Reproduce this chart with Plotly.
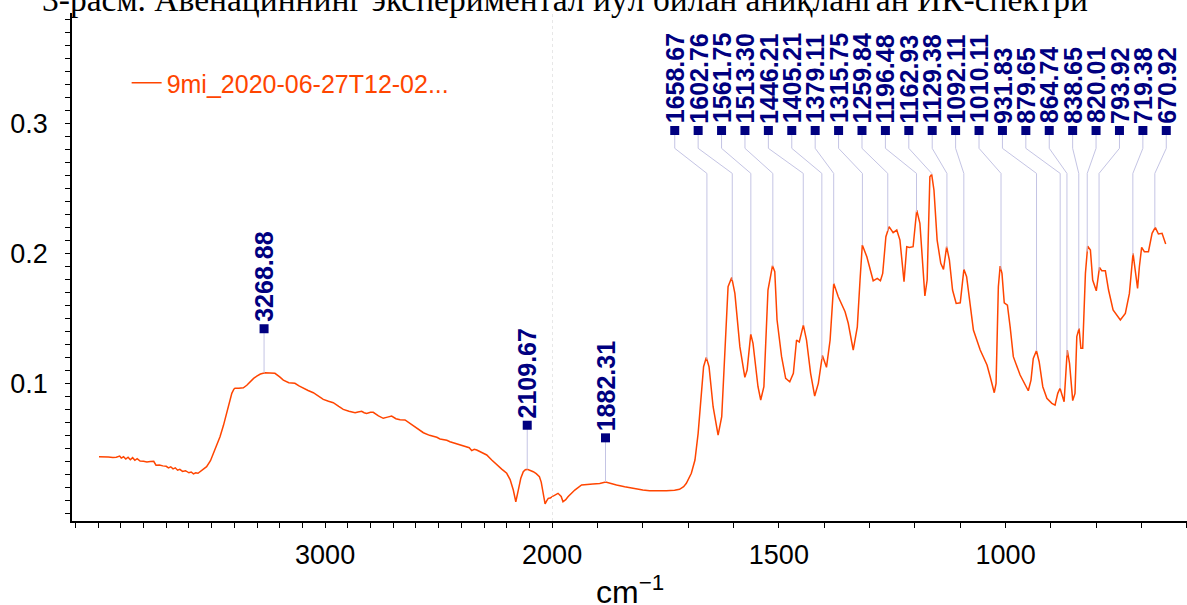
import numpy as np
import plotly.graph_objects as go

# ---------------- data ----------------
# wavenumber (cm-1) and absorbance, region above 2000 cm-1 (compressed scale)
wn_high = [3996, 3975, 3955, 3935, 3920, 3905, 3898, 3888, 3878, 3868, 3858, 3848, 3838, 3828,
           3815, 3800, 3785, 3770, 3755, 3745, 3730, 3715, 3700, 3690, 3680, 3670, 3660, 3650,
           3640, 3628, 3615, 3600, 3590, 3580, 3570, 3560, 3551, 3540, 3522, 3505, 3492, 3478,
           3463, 3448, 3433, 3420, 3411, 3402, 3397, 3380, 3360, 3345, 3331, 3315, 3301, 3285,
           3265, 3245, 3221, 3200, 3184, 3160, 3133, 3115, 3096, 3075, 3052, 3030, 3008, 2985,
           2964, 2940, 2920, 2895, 2868, 2855, 2839, 2828, 2817, 2800, 2788, 2765, 2744, 2725,
           2707, 2688, 2670, 2648, 2626, 2611, 2590, 2567, 2540, 2508, 2494, 2464, 2450, 2420,
           2406, 2376, 2365, 2354, 2343, 2332, 2310, 2288, 2266, 2244, 2222, 2200, 2185, 2171,
           2160, 2149, 2138, 2127, 2118, 2109, 2096, 2083, 2070, 2056, 2048, 2041, 2035, 2031,
           2024, 2017, 2008, 2000]
ab_high = [0.0435, 0.0436, 0.0433, 0.0430, 0.0432, 0.0440, 0.0425, 0.0435, 0.0418, 0.0432, 0.0412,
           0.0428, 0.0408, 0.0420, 0.0402, 0.0400, 0.0395, 0.0398, 0.0400, 0.0370, 0.0372, 0.0365,
           0.0362, 0.0350, 0.0358, 0.0342, 0.0350, 0.0332, 0.0338, 0.0322, 0.0328, 0.0312, 0.0318,
           0.0303, 0.0312, 0.0308, 0.0320, 0.0332, 0.0359, 0.0405, 0.0462, 0.0525, 0.0589, 0.0675,
           0.0769, 0.0860, 0.0923, 0.0955, 0.0962, 0.0963, 0.0966, 0.0985, 0.1012, 0.1038, 0.1056,
           0.1072, 0.1082, 0.1082, 0.1077, 0.1050, 0.1025, 0.1005, 0.1000, 0.0980, 0.0962, 0.0945,
           0.0928, 0.0900, 0.0877, 0.0862, 0.0851, 0.0822, 0.0800, 0.0785, 0.0774, 0.0780, 0.0785,
           0.0774, 0.0769, 0.0777, 0.0777, 0.0750, 0.0731, 0.0740, 0.0748, 0.0728, 0.0720, 0.0718,
           0.0690, 0.0672, 0.0650, 0.0620, 0.0600, 0.0585, 0.0572, 0.0562, 0.0551, 0.0535, 0.0525,
           0.0513, 0.0505, 0.0482, 0.0492, 0.0487, 0.0470, 0.0449, 0.0410, 0.0372, 0.0340, 0.0308,
           0.0260, 0.0179, 0.0089, 0.0179, 0.0270, 0.0320, 0.0335, 0.0338, 0.0330, 0.0320, 0.0305,
           0.0282, 0.0240, 0.0179, 0.0110, 0.0072, 0.0095, 0.0115, 0.0118, 0.0128]

# region below 2000 cm-1 (expanded scale)
wn_low = [2000, 1987, 1980, 1976, 1970, 1965, 1950, 1935, 1910, 1895, 1882, 1870, 1858, 1840,
          1822, 1800, 1785, 1765, 1748, 1730, 1719, 1710, 1704, 1693, 1685, 1678, 1671, 1666,
          1660, 1654, 1645, 1638, 1634, 1626, 1619, 1612, 1604, 1597, 1586, 1575, 1570, 1562,
          1557, 1546, 1540, 1533, 1524, 1514, 1509, 1504, 1494, 1485, 1476, 1468, 1461, 1455,
          1446, 1439, 1430, 1421, 1413, 1404, 1395, 1387, 1379, 1369, 1354, 1347, 1336, 1327,
          1321, 1316, 1306, 1292, 1283, 1276, 1271, 1264, 1257, 1248, 1240, 1233, 1224, 1218,
          1212, 1204, 1196, 1189, 1178, 1173, 1167, 1163, 1158, 1151, 1143, 1137, 1130, 1124,
          1117, 1109, 1100, 1092, 1086, 1078, 1071, 1056, 1041, 1034, 1025, 1021, 1016, 1012,
          1008, 1003, 996, 990, 983, 968, 950, 944, 939, 932, 926, 918, 909, 898, 891, 885, 880,
          871, 864, 859, 854, 852, 847, 843, 838, 834, 830, 824, 819, 813, 808, 800, 793, 788,
          780, 773, 763, 747, 736, 727, 719, 714, 709, 705, 700, 694, 685, 677, 670, 663, 655, 647]
ab_low = [0.0128, 0.0154, 0.0130, 0.0089, 0.0105, 0.0128, 0.0179, 0.0218, 0.0225, 0.0230, 0.0241,
          0.0228, 0.0218, 0.0205, 0.0192, 0.0180, 0.0174, 0.0173, 0.0174, 0.0178, 0.0185, 0.0205,
          0.0231, 0.0308, 0.0410, 0.0615, 0.0923, 0.1128, 0.1200, 0.1128, 0.0820, 0.0660, 0.0602,
          0.0743, 0.1205, 0.1743, 0.1815, 0.1692, 0.1282, 0.1046, 0.1102, 0.1379, 0.1308, 0.0974,
          0.0872, 0.0974, 0.1718, 0.1905, 0.1859, 0.1487, 0.1205, 0.1038, 0.1012, 0.1077, 0.1333,
          0.1318, 0.1448, 0.1333, 0.1077, 0.0902, 0.1000, 0.1215, 0.1123, 0.1333, 0.1769, 0.1666,
          0.1551, 0.1462, 0.1256, 0.1435, 0.1795, 0.2064, 0.1974, 0.1789, 0.1808, 0.1789, 0.1846,
          0.2128, 0.2205, 0.2159, 0.2179, 0.2102, 0.1782, 0.2051, 0.2046, 0.2051, 0.2333, 0.2231,
          0.1672, 0.1795, 0.2589, 0.2608, 0.2487, 0.2102, 0.1923, 0.1877, 0.2051, 0.1949, 0.1718,
          0.1615, 0.1620, 0.1877, 0.1820, 0.1589, 0.1410, 0.1256, 0.1141, 0.1051, 0.0928, 0.1000,
          0.1743, 0.1902, 0.1846, 0.1620, 0.1602, 0.1435, 0.1205, 0.1064, 0.0943, 0.1025, 0.1192,
          0.1251, 0.1166, 0.0974, 0.0885, 0.0846, 0.0833, 0.0923, 0.0962, 0.0859, 0.1256, 0.1154,
          0.0897, 0.0867, 0.0923, 0.1359, 0.1423, 0.1269, 0.1269, 0.1846, 0.2056, 0.2025, 0.1795,
          0.1712, 0.1892, 0.1866, 0.1866, 0.1718, 0.1564, 0.1487, 0.1538, 0.1692, 0.2000, 0.1872,
          0.1731, 0.1897, 0.2046, 0.2013, 0.2013, 0.2154, 0.2200, 0.2149, 0.2154, 0.2072]

# peak labels
single_peaks = ["3268.88", "2109.67", "1882.31"]
crowded_peaks = ["1658.67", "1602.76", "1561.75", "1513.30", "1446.21", "1405.21", "1379.11",
                 "1315.75", "1259.84", "1196.48", "1162.93", "1129.38", "1092.11", "1010.11",
                 "931.83", "879.65", "864.74", "838.65", "820.01", "793.92", "719.38", "670.92"]

series_name = "9mi_2020-06-27T12-02..."
x_title = "cm<sup>−1</sup>"
caption = "3-расм. Авенациннинг экспериментал йўл билан аниқланган ИК-спектри"

# ticks
high_labels = [3000]
high_long = [4000, 3000]
high_medium = [3500, 2500]
low_labels = [2000, 1500, 1000]
low_long = [2000, 1500, 1000]
y_labels = [0.1, 0.2, 0.3]
y_long = [0, 0.1, 0.2, 0.3]
y_medium = [0.05, 0.15, 0.25, 0.35]

# ---------------- styling / layout constants ----------------
LINE_COLOR = "#FF4500"
LABEL_COLOR = "#000080"
LEADER_COLOR = "#C4C4E4"
FONT = "Liberation Sans, Arial, sans-serif"
X_HIGH_RANGE = [4115, 2000]
X_LOW_RANGE = [2000, 600]
Y_RANGE = [-0.0059, 0.3849]
SPLIT = 0.4306
LABEL_OFFSET = 0.034       # label square height above single peaks
ROW_Y = 0.2945             # label row for crowded peaks
BEND1 = 0.2808
BEND2 = 0.2615
SPREAD = (1729.6, 645.7)   # horizontal spread of crowded label row (cm-1)

wn_all = np.array(wn_high + wn_low[1:], dtype=float)
ab_all = np.array(ab_high + ab_low[1:], dtype=float)
order = np.argsort(wn_all)


def height(w):
    return float(np.interp(w, wn_all[order], ab_all[order]))


fig = go.Figure()

fig.add_trace(go.Scatter(x=wn_high, y=ab_high, xaxis="x", yaxis="y", mode="lines",
                         line=dict(color=LINE_COLOR, width=1.5), name=series_name,
                         legendgroup="s", showlegend=True, hoverinfo="x+y"))
fig.add_trace(go.Scatter(x=wn_low, y=ab_low, xaxis="x2", yaxis="y", mode="lines",
                         line=dict(color=LINE_COLOR, width=1.5), name=series_name,
                         legendgroup="s", showlegend=False, hoverinfo="x+y"))

annotations = []
lab_font = dict(family=FONT, size=25, color=LABEL_COLOR, weight="bold")

# single (isolated) peaks
lead = {"x": ([], []), "x2": ([], [])}
sq = {"x": ([], []), "x2": ([], [])}
for lab in single_peaks:
    w = float(lab)
    ax = "x" if w > 2000 else "x2"
    h = height(w)
    sy = h + LABEL_OFFSET
    lead[ax][0].extend([w, w, None])
    lead[ax][1].extend([h, sy, None])
    sq[ax][0].append(w)
    sq[ax][1].append(sy)
    annotations.append(dict(x=w, y=sy, xref=ax, yref="y", text=lab, textangle=-90,
                            showarrow=False, xanchor="center", yanchor="bottom", yshift=5,
                            font=lab_font))

# crowded peaks with spread labels
lx = np.linspace(SPREAD[0], SPREAD[1], len(crowded_peaks))
for lab, x0 in zip(crowded_peaks, lx):
    w = float(lab)
    h = height(w)
    lead["x2"][0].extend([x0, x0, w, w, None])
    lead["x2"][1].extend([ROW_Y, BEND1, BEND2, h, None])
    sq["x2"][0].append(x0)
    sq["x2"][1].append(ROW_Y)
    annotations.append(dict(x=x0, y=ROW_Y, xref="x2", yref="y", text=lab, textangle=-90,
                            showarrow=False, xanchor="center", yanchor="bottom", yshift=5,
                            font=lab_font))

for ax in ["x", "x2"]:
    fig.add_trace(go.Scatter(x=lead[ax][0], y=lead[ax][1], xaxis=ax, yaxis="y", mode="lines",
                             line=dict(color=LEADER_COLOR, width=1), showlegend=False,
                             hoverinfo="skip"))
for ax in ["x", "x2"]:
    fig.add_trace(go.Scatter(x=sq[ax][0], y=sq[ax][1], xaxis=ax, yaxis="y", mode="markers",
                             marker=dict(symbol="square", size=9, color=LABEL_COLOR),
                             showlegend=False, hoverinfo="skip"))

# x-axis title and caption
annotations.append(dict(x=0.5, y=0, xref="paper", yref="paper", text=x_title, showarrow=False,
                        xanchor="center", yanchor="top", yshift=-47,
                        font=dict(family=FONT, size=32, color="black")))
annotations.append(dict(x=-0.0287, y=1, xref="paper", yref="paper", text=caption,
                        showarrow=False, xanchor="left", yanchor="middle", yshift=14,
                        font=dict(family="Liberation Serif, Times New Roman, serif", size=33.5,
                                  color="black")))

tickfont = dict(family=FONT, size=27, color="black")
plain = dict(showgrid=False, zeroline=False)


def tick_overlay(base, rng, vals, length):
    return dict(overlaying=base, range=rng, showline=False, ticks="outside", tickvals=vals,
                ticklen=length, tickwidth=2.5, tickcolor="black", showticklabels=False,
                **plain)


fig.update_layout(
    width=1187, height=605,
    margin=dict(l=72, r=0, t=13, b=84),
    paper_bgcolor="white", plot_bgcolor="white",
    font=dict(family=FONT, color="black"),
    showlegend=True,
    legend=dict(x=0.049, y=0.862, xanchor="left", yanchor="middle",
                font=dict(family=FONT, size=25, color=LINE_COLOR),
                bgcolor="rgba(0,0,0,0)", borderwidth=0),
    xaxis=dict(domain=[0, SPLIT], range=X_HIGH_RANGE, anchor="y", showline=True,
               linecolor="black", linewidth=1.5, ticks="", tickvals=high_labels,
               tickfont=tickfont, ticklabelstandoff=9,
               minor=dict(tickvals=list(range(4100, 2000, -100)), ticklen=5, tickwidth=1,
                          tickcolor="black", ticks="outside"),
               **plain),
    xaxis2=dict(domain=[SPLIT, 1], range=X_LOW_RANGE, anchor="y", showline=True,
                linecolor="black", linewidth=1.5, ticks="", tickvals=low_labels,
                tickfont=tickfont, ticklabelstandoff=9,
                minor=dict(tickvals=list(range(2000, 599, -100)), ticklen=5, tickwidth=1,
                           tickcolor="black", ticks="outside"),
                **plain),
    xaxis3=dict(anchor="y", **tick_overlay("x", X_HIGH_RANGE, high_medium, 11)),
    xaxis4=dict(anchor="y", **tick_overlay("x", X_HIGH_RANGE, high_long, 17)),
    xaxis5=dict(anchor="y", **tick_overlay("x2", X_LOW_RANGE, low_long, 17)),
    yaxis=dict(range=Y_RANGE, anchor="x", showline=True, linecolor="black", linewidth=1.5,
               ticks="", tickvals=y_labels, tickfont=tickfont, ticklabelstandoff=17,
               minor=dict(tickvals=[round(i * 0.01, 2) for i in range(0, 39)], ticklen=5,
                          tickwidth=1, tickcolor="black", ticks="outside"),
               **plain),
    yaxis3=dict(anchor="x", **tick_overlay("y", Y_RANGE, y_medium, 12)),
    yaxis4=dict(anchor="x", **tick_overlay("y", Y_RANGE, y_long, 18)),
    annotations=annotations,
    shapes=[dict(type="line", xref="x2", x0=2000, x1=2000, yref="paper", y0=0, y1=1,
                 line=dict(color="#D8D8D8", width=1, dash="dot"), layer="below")],
)

fig.write_html("out.html")
